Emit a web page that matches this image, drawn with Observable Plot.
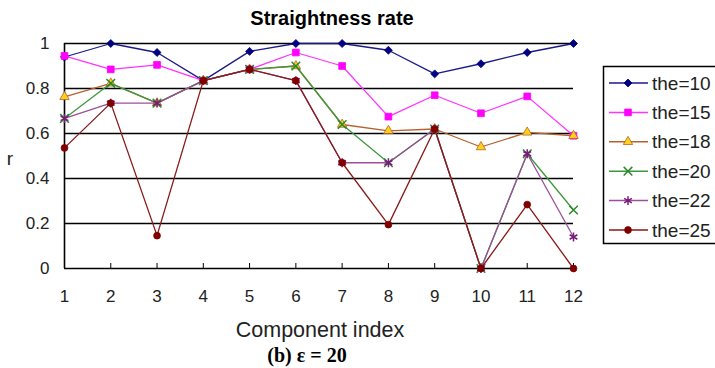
<!DOCTYPE html>
<html>
<head>
<meta charset="utf-8">
<script src="https://cdn.jsdelivr.net/npm/d3@7"></script>
<script src="https://cdn.jsdelivr.net/npm/@observablehq/plot@0.6"></script>
<style>
  html, body { margin: 0; padding: 0; background: #fff; }
  svg { font-family: "Liberation Sans", Arial, sans-serif; }
</style>
</head>
<body>
<div id="chart"></div>
<script>
const componentIndex = [1, 2, 3, 4, 5, 6, 7, 8, 9, 10, 11, 12];
const seriesNames = ["the=10", "the=15", "the=18", "the=20", "the=22", "the=25"];
const the10 = [0.94, 1.0, 0.96, 0.835, 0.965, 1.0, 1.0, 0.97, 0.865, 0.91, 0.96, 1.0];
const the15 = [0.945, 0.885, 0.905, 0.835, 0.885, 0.96, 0.90, 0.675, 0.77, 0.69, 0.765, 0.59];
const the18 = [0.763, 0.823, 0.735, 0.835, 0.885, 0.90, 0.64, 0.612, 0.62, 0.54, 0.605, 0.59];
const the20 = [0.667, 0.823, 0.735, 0.835, 0.885, 0.90, 0.64, 0.47, 0.62, 0.0, 0.51, 0.26];
const the22 = [0.667, 0.735, 0.735, 0.835, 0.885, 0.835, 0.47, 0.47, 0.62, 0.0, 0.51, 0.14];
const the25 = [0.536, 0.735, 0.146, 0.835, 0.885, 0.835, 0.47, 0.195, 0.62, 0.0, 0.284, 0.0];
const yTicks = [0, 0.2, 0.4, 0.6, 0.8, 1];
const yTickLabels = ["0", "0.2", "0.4", "0.6", "0.8", "1"];
const xTicks = componentIndex;

const allValues = [the10, the15, the18, the20, the22, the25];

const styles = [
  {line: "#1a1a8a", symbol: "diamond2", fill: "#000080", stroke: "#000080", r: 3.6},
  {line: "#ff33ff", symbol: "square", fill: "#ff00ff", stroke: "#ff00ff", r: 3.8},
  {line: "#b8602e", symbol: "triangle", fill: "#ffd21a", stroke: "#b8602e", r: 3.5},
  {line: "#3e983e", symbol: "times", fill: "none", stroke: "#2a8a2a", r: 4.0},
  {line: "#9a4f9a", symbol: "asterisk", fill: "none", stroke: "#7a1a7a", r: 4.2},
  {line: "#8a1818", symbol: "circle", fill: "#800000", stroke: "#800000", r: 3.4}
];

const W = 715, H = 368;
const marks = [
  Plot.ruleY(yTicks.filter(d => d > 0), {stroke: "#000", strokeWidth: 1.4}),
  Plot.ruleY([0], {stroke: "#000", strokeWidth: 1.6}),
  Plot.ruleX([componentIndex[0]], {stroke: "#000", strokeWidth: 1.6}),
  Plot.axisX({ticks: xTicks, tickSize: -5, tickPadding: 26, tickFormat: d => String(d), fontSize: 17, fill: "#222", label: null}),
  Plot.axisY({ticks: yTicks, tickSize: -5, tickPadding: 20, tickFormat: (d, i) => yTickLabels[yTicks.indexOf(d)], fontSize: 17, fill: "#222", label: null})
];
seriesNames.forEach((name, k) => {
  const data = componentIndex.map((x, i) => ({x, y: allValues[k][i]}));
  const s = styles[k];
  marks.push(Plot.line(data, {x: "x", y: "y", stroke: s.line, strokeWidth: 1.3}));
  marks.push(Plot.dot(data, {x: "x", y: "y", symbol: () => s.symbol, r: s.r, fill: s.fill, stroke: s.stroke, strokeWidth: s.fill === "none" ? 1.5 : 0.8}));
});

const chart = Plot.plot({
  width: W, height: H,
  marginLeft: 64, marginRight: 142, marginTop: 43, marginBottom: 100,
  x: {domain: [1, 12]},
  y: {domain: [0, 1]},
  style: {fontFamily: "'Liberation Sans', Arial, sans-serif", background: "#fff", overflow: "visible"},
  marks
});
document.getElementById("chart").appendChild(chart);

const svg = d3.select(chart);
svg.append("text").attr("x", 332).attr("y", 25).attr("text-anchor", "middle")
  .attr("font-size", 20).attr("font-weight", "bold").attr("fill", "#000")
  .text("Straightness rate");
svg.append("text").attr("x", 10).attr("y", 158).attr("text-anchor", "middle").attr("dy", "0.35em")
  .attr("font-size", 19).attr("fill", "#222").text("r");
svg.append("text").attr("x", 320).attr("y", 337).attr("text-anchor", "middle")
  .attr("font-size", 21.5).attr("fill", "#222").text("Component index");
svg.append("text").attr("x", 307).attr("y", 362).attr("text-anchor", "middle")
  .attr("font-size", 20).attr("font-weight", "bold").attr("font-family", "'Liberation Serif', 'Times New Roman', serif")
  .attr("fill", "#000").text("(b) ε = 20");

// Legend
const legend = svg.append("g");
legend.append("rect").attr("x", 603.5).attr("y", 66.5).attr("width", 130).attr("height", 177)
  .attr("fill", "#fff").attr("stroke", "#000").attr("stroke-width", 1.5);
const symbolMap = {diamond2: d3.symbolDiamond2, square: d3.symbolSquare, triangle: d3.symbolTriangle,
  times: d3.symbolTimes, asterisk: d3.symbolAsterisk, circle: d3.symbolCircle};
seriesNames.forEach((name, k) => {
  const s = styles[k];
  const cy = 83 + k * 29.4;
  const g = legend.append("g").attr("transform", `translate(0,${cy})`);
  g.append("line").attr("x1", 609).attr("x2", 648).attr("y1", 0).attr("y2", 0)
    .attr("stroke", s.line).attr("stroke-width", 1.5);
  g.append("path").attr("transform", "translate(628,0)")
    .attr("d", d3.symbol(symbolMap[s.symbol], Math.PI * s.r * s.r)())
    .attr("fill", s.fill).attr("stroke", s.stroke).attr("stroke-width", s.fill === "none" ? 1.5 : 0.8);
  g.append("text").attr("x", 652).attr("y", 0).attr("dy", "0.35em").attr("text-anchor", "start")
    .attr("font-size", 19).attr("fill", "#222").text(name);
});
</script>
</body>
</html>
